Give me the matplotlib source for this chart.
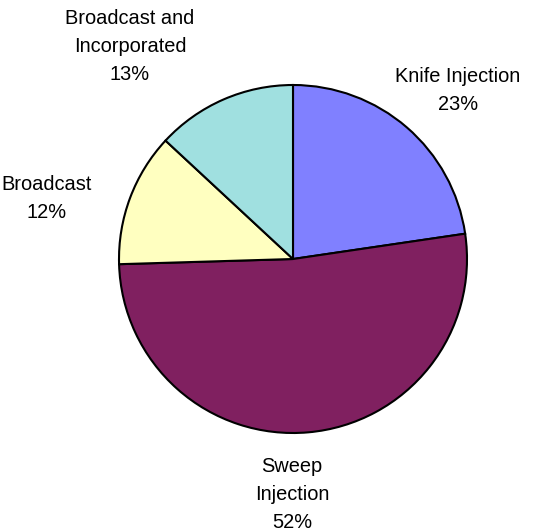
import matplotlib
matplotlib.use("Agg")
import matplotlib.pyplot as plt

labels = ["Knife Injection", "Sweep\nInjection", "Broadcast", "Broadcast and\nIncorporated"]
shares = [22.7, 51.9, 12.4, 13.1]
colors = ["#8080FF", "#802060", "#FFFFC0", "#A0E0E0"]
# label anchor points in pixels (x, y from top)
label_pos = [(458, 90), (292, 495), (47, 198), (130, 47)]

plt.rcParams["font.family"] = ["Liberation Sans", "DejaVu Sans"]

W, H = 559, 531
fig = plt.figure(figsize=(W / 100, H / 100), dpi=100)
ax = fig.add_axes([0, 0, 1, 1])

ax.pie(shares, colors=colors, startangle=90, counterclock=False,
       center=(293, H - 259), radius=174,
       wedgeprops=dict(edgecolor="black", linewidth=1.5))
ax.set_xlim(0, W)
ax.set_ylim(0, H)
ax.set_aspect("auto")
ax.axis("off")

for lab, v, (x, y) in zip(labels, shares, label_pos):
    ax.text(x, H - y, "%s\n%d%%" % (lab, round(v)), ha="center", va="center",
            fontsize=14.4, linespacing=1.6, color="black")

fig.savefig("out.png", dpi=100)
